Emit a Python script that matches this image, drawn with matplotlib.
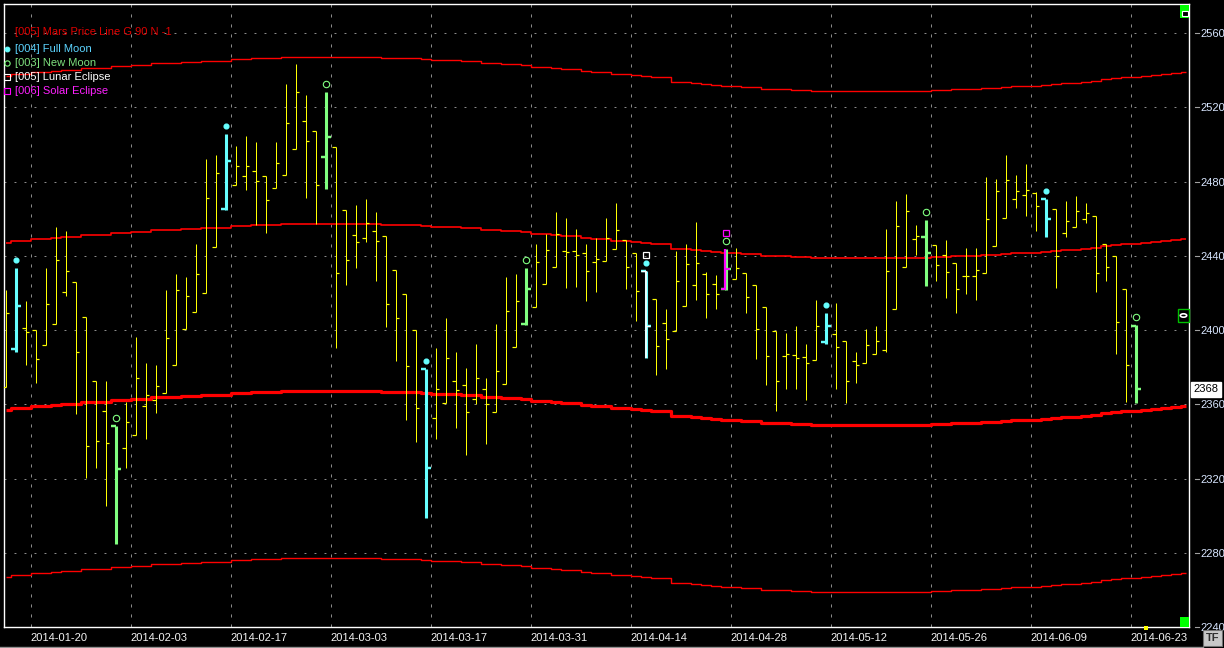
import matplotlib
matplotlib.use('Agg')
import matplotlib.pyplot as plt
import matplotlib.transforms as mtrans
from matplotlib.patches import Rectangle, Circle
import numpy as np

plt.rcParams['font.family'] = ['Liberation Sans', 'DejaVu Sans']
plt.rcParams['lines.scale_dashes'] = False

# ---------------- data ----------------
opens = [2369.3, 2389.8, 2401.1, 2400.0, 2391.9, 2403.3, 2420.5, 2425.9, 2407.0, 2372.5,
         2356.4, 2348.3, 2336.4, 2343.4, 2359.1, 2362.3, 2366.1, 2381.2, 2400.6, 2409.7,
         2420.0, 2444.7, 2465.2, 2478.1, 2483.0, 2485.7, 2483.0, 2476.5, 2483.5, 2497.5,
         2512.6, 2507.2, 2493.2, 2498.6, 2464.7, 2451.2, 2449.6, 2453.4, 2450.7, 2432.4,
         2419.4, 2400.0, 2379.0, 2352.6, 2360.7, 2372.5, 2370.4, 2362.8, 2368.2, 2355.8,
         2370.9, 2390.9, 2403.3, 2412.4, 2424.8, 2434.0, 2442.6, 2442.6, 2441.5, 2436.7,
         2437.2, 2443.7, 2448.5, 2441.5, 2431.8, 2416.7, 2403.8, 2399.5, 2413.0, 2424.3,
         2430.2, 2424.8, 2422.1, 2427.5, 2430.7, 2424.3, 2412.4, 2399.5, 2386.0, 2386.6,
         2385.5, 2383.9, 2393.6, 2397.9, 2394.1, 2383.3, 2382.2, 2387.1, 2389.2, 2411.3,
         2434.0, 2449.1, 2450.1, 2445.8, 2440.4, 2436.1, 2429.1, 2429.1, 2430.7, 2445.3,
         2460.4, 2470.6, 2472.8, 2473.8, 2470.6, 2465.2, 2452.3, 2455.5, 2459.8, 2461.4,
         2446.4, 2439.9, 2422.1, 2402.2]
highs = [2421.6, 2433.4, 2415.6, 2400.0, 2433.4, 2455.5, 2453.4, 2425.9, 2407.0, 2372.5,
         2372.5, 2348.3, 2361.2, 2396.3, 2382.2, 2381.2, 2421.6, 2430.2, 2428.6, 2446.4,
         2492.2, 2494.3, 2505.6, 2499.2, 2504.5, 2501.3, 2483.0, 2501.3, 2532.6, 2543.3,
         2526.6, 2507.2, 2528.3, 2498.6, 2464.7, 2467.4, 2470.6, 2463.6, 2450.7, 2432.4,
         2419.4, 2400.0, 2379.0, 2390.3, 2406.5, 2388.2, 2379.5, 2392.5, 2374.2, 2403.3,
         2428.6, 2430.2, 2433.4, 2446.4, 2451.7, 2463.6, 2460.4, 2454.4, 2446.4, 2449.6,
         2460.4, 2468.5, 2448.5, 2441.5, 2431.8, 2416.7, 2411.3, 2442.6, 2446.4, 2458.2,
         2431.3, 2429.7, 2443.7, 2444.2, 2430.7, 2424.3, 2412.4, 2399.5, 2398.4, 2402.2,
         2392.5, 2416.2, 2409.2, 2414.6, 2394.1, 2388.2, 2400.6, 2402.2, 2454.4, 2469.5,
         2473.3, 2456.6, 2459.3, 2445.8, 2448.5, 2436.1, 2444.2, 2444.2, 2482.5, 2481.4,
         2494.3, 2483.5, 2489.5, 2474.4, 2470.6, 2465.2, 2469.5, 2472.2, 2468.5, 2461.4,
         2446.4, 2439.9, 2422.1, 2402.7]
lows = [2369.3, 2388.2, 2381.2, 2371.5, 2391.9, 2403.3, 2418.3, 2354.8, 2320.3, 2325.7,
        2305.2, 2284.7, 2325.7, 2343.4, 2341.3, 2355.3, 2366.1, 2381.2, 2400.6, 2409.7,
        2420.0, 2444.7, 2464.7, 2478.1, 2475.5, 2456.6, 2452.3, 2476.5, 2483.5, 2497.5,
        2471.1, 2457.1, 2476.0, 2390.3, 2424.3, 2433.4, 2447.4, 2426.4, 2401.6, 2383.3,
        2351.5, 2339.7, 2298.7, 2341.3, 2360.7, 2347.2, 2332.7, 2360.2, 2338.6, 2355.8,
        2370.9, 2390.9, 2402.7, 2412.4, 2424.8, 2434.0, 2422.7, 2423.2, 2415.6, 2420.5,
        2437.2, 2443.7, 2422.1, 2404.9, 2384.9, 2375.8, 2379.0, 2399.5, 2413.0, 2416.2,
        2406.5, 2411.3, 2421.6, 2427.5, 2409.2, 2384.4, 2370.4, 2356.4, 2368.2, 2368.2,
        2362.3, 2383.9, 2392.5, 2368.2, 2360.7, 2371.5, 2382.2, 2387.1, 2388.2, 2411.3,
        2434.0, 2440.4, 2423.7, 2426.4, 2417.3, 2409.2, 2419.4, 2416.2, 2430.7, 2445.3,
        2460.4, 2465.8, 2461.4, 2453.4, 2450.1, 2422.7, 2450.1, 2455.5, 2457.7, 2420.5,
        2426.4, 2387.1, 2361.2, 2360.5]
closes = [2409.2, 2413.0, 2398.9, 2384.4, 2414.0, 2437.7, 2431.8, 2388.2, 2337.5, 2340.2,
          2339.1, 2325.1, 2350.5, 2374.2, 2365.0, 2369.9, 2395.7, 2421.6, 2418.3, 2430.2,
          2471.1, 2484.6, 2491.1, 2488.4, 2488.4, 2480.3, 2470.1, 2490.0, 2511.6, 2528.3,
          2501.9, 2478.1, 2504.0, 2430.7, 2437.7, 2447.4, 2457.7, 2448.0, 2414.0, 2406.5,
          2380.6, 2358.0, 2325.7, 2368.2, 2384.9, 2367.7, 2355.8, 2374.2, 2360.2, 2377.9,
          2410.3, 2415.6, 2422.1, 2436.7, 2443.1, 2451.7, 2442.1, 2440.4, 2431.8, 2438.3,
          2449.6, 2453.9, 2434.0, 2421.0, 2402.2, 2391.4, 2395.2, 2426.4, 2435.6, 2436.1,
          2419.4, 2419.4, 2432.9, 2433.4, 2417.8, 2400.6, 2386.0, 2372.5, 2387.1, 2384.9,
          2382.2, 2402.2, 2402.2, 2390.9, 2372.5, 2381.2, 2391.9, 2394.1, 2431.8, 2456.1,
          2464.1, 2450.7, 2441.5, 2435.0, 2431.3, 2422.1, 2429.1, 2432.4, 2459.8, 2474.9,
          2480.8, 2474.9, 2475.5, 2466.8, 2459.8, 2439.9, 2458.8, 2464.1, 2463.1, 2430.7,
          2434.0, 2404.3, 2381.2, 2368.0]

# Mars price line (one value per bar slot, incl. 5 future slots)
mars_line = [2446.9, 2448.1, 2448.1, 2448.9, 2448.9, 2449.6, 2450.1, 2450.1, 2451.2, 2451.2,
             2451.2, 2452.1, 2452.1, 2453.0, 2453.0, 2453.7, 2453.7, 2453.7, 2454.3, 2454.3,
             2455.1, 2455.1, 2455.1, 2456.1, 2456.1, 2456.6, 2456.6, 2456.6, 2457.1, 2457.1,
             2457.1, 2457.1, 2457.1, 2457.1, 2457.1, 2457.1, 2457.1, 2457.1, 2456.6, 2456.6,
             2456.6, 2456.6, 2456.1, 2455.5, 2455.5, 2455.5, 2454.8, 2454.8, 2453.9, 2453.7,
             2453.2, 2453.2, 2452.7, 2451.7, 2451.7, 2451.0, 2450.5, 2450.5, 2449.8, 2448.9,
             2448.9, 2448.0, 2448.0, 2447.3, 2446.7, 2446.2, 2446.2, 2443.7, 2443.5, 2443.0,
             2442.4, 2441.9, 2441.3, 2441.3, 2440.8, 2440.8, 2439.7, 2439.7, 2439.7, 2439.2,
             2439.2, 2438.7, 2438.7, 2438.7, 2438.7, 2438.7, 2438.7, 2438.7, 2438.7, 2438.7,
             2438.7, 2438.7, 2438.7, 2439.2, 2439.2, 2439.7, 2439.7, 2439.7, 2440.3, 2440.3,
             2440.8, 2441.3, 2441.3, 2441.3, 2441.9, 2442.4, 2443.0, 2443.0, 2443.5, 2444.0,
             2445.1, 2445.7, 2446.2, 2446.2, 2446.7, 2447.3, 2447.8, 2448.4, 2448.9]
harmonic_offsets = [90, 0, -90, -180]

full_moon = [1, 22, 42, 64, 82, 104]
new_moon = [11, 32, 52, 72, 92, 113]
lunar_eclipse = [64]
solar_eclipse = [72]

date_labels = ['2014-01-20', '2014-02-03', '2014-02-17', '2014-03-03', '2014-03-17',
               '2014-03-31', '2014-04-14', '2014-04-28', '2014-05-12', '2014-05-26',
               '2014-06-09', '2014-06-23']
price_ticks = [2240, 2280, 2320, 2360, 2400, 2440, 2480, 2520, 2560]
last_price = 2368

# ---------------- styling ----------------
W, H = 1224, 648
C_BAR = '#FFFF00'
C_FULL = '#66FFFF'
C_NEW = '#80FF80'
C_LUNAR = '#FFFFFF'
C_SOLAR = '#FF00FF'
C_RED = '#FF0000'
C_GRID = '#8A8A8A'
PX = 0.72  # one pixel in points

fig = plt.figure(figsize=(W / 100, H / 100), dpi=100, facecolor='black')
ax = fig.add_axes([4 / W, 21 / H, 1185 / W, 623 / H])
ax.set_facecolor('black')
ax.set_xlim(-0.15, 118.35)
ax.set_ylim(2240, 2240 + 623 / 1.856)

n = len(opens)
idx = np.arange(n)
o = np.array(opens); h = np.array(highs); l = np.array(lows); c = np.array(closes)

# grid
for yv in price_ticks[1:]:
    ax.axhline(yv, color=C_GRID, lw=PX, linestyle=(0, (1.4, 5.8)), zorder=1)
label_pos = [2.5 + 10 * k for k in range(len(date_labels))]
for xv in label_pos:
    ax.axvline(xv, color=C_GRID, lw=PX, linestyle=(0, (2.2, 5.0)), zorder=1)

# Mars price lines
xl = np.arange(len(mars_line))
ml = np.array(mars_line)
widths = [1.0, 1.2, 2.3, 1.0]
for off, lw in zip(harmonic_offsets, widths):
    ax.plot(xl, ml + off, drawstyle='steps-mid', color=C_RED, lw=lw, zorder=2,
            solid_capstyle='butt')

# ordinary OHLC bars
special = set(full_moon) | set(new_moon) | set(lunar_eclipse) | set(solar_eclipse)
norm = np.array([i for i in idx if i not in special])
tk = 0.38
ax.vlines(norm, l[norm], h[norm], color=C_BAR, lw=PX, zorder=3)
ax.hlines(o[norm], norm - tk, norm, color=C_BAR, lw=PX * 1.2, zorder=3)
ax.hlines(c[norm], norm, norm + tk, color=C_BAR, lw=PX * 1.2, zorder=3)


def event_bars(ids, color, lw=2.2, tlen=0.5, dx=0.0, z=4):
    ids = np.array(ids)
    ax.vlines(ids + dx, l[ids], h[ids], color=color, lw=lw, zorder=z)
    ax.hlines(o[ids], ids - tlen, ids, color=color, lw=lw * 0.8, zorder=z)
    ax.hlines(c[ids], ids, ids + tlen, color=color, lw=lw * 0.8, zorder=z)


event_bars(full_moon, C_FULL)
event_bars(new_moon, C_NEW)
event_bars(lunar_eclipse, C_LUNAR, lw=1.2, tlen=0.45, dx=0.08, z=5)
event_bars(solar_eclipse, C_SOLAR, lw=1.6, tlen=0.45, dx=-0.06, z=5)

# event markers above highs
up8 = mtrans.offset_copy(ax.transData, fig=fig, x=0, y=8, units='dots')
up16 = mtrans.offset_copy(ax.transData, fig=fig, x=0, y=16, units='dots')
fm = np.array(full_moon); nm = np.array(new_moon)
ax.plot(fm, h[fm], ls='none', marker='o', ms=3.4, mfc=C_FULL, mec=C_FULL, transform=up8, zorder=6)
ax.plot(nm, h[nm], ls='none', marker='o', ms=4.6, mfc='none', mec=C_NEW, mew=0.8, transform=up8, zorder=6)
le = np.array(lunar_eclipse); se = np.array(solar_eclipse)
ax.plot(le, h[le], ls='none', marker='s', ms=4.6, mfc='none', mec=C_LUNAR, mew=0.9, transform=up16, zorder=6)
ax.plot(se, h[se], ls='none', marker='s', ms=5.0, mfc='none', mec=C_SOLAR, mew=0.9, transform=up16, zorder=6)

# spines
for s in ['left', 'bottom', 'right', 'top']:
    ax.spines[s].set_color('white')
    ax.spines[s].set_linewidth(1.0)

# axes ticks
ax.set_xticks(label_pos)
ax.set_xticklabels(date_labels, ha='left')
ax.tick_params(axis='x', length=0, pad=4, labelsize=8, labelcolor='#F4F4F4')
ax.yaxis.tick_right()
ax.set_yticks(price_ticks)
ax.set_yticklabels([str(v) for v in price_ticks])
ax.tick_params(axis='y', length=0, pad=8, labelsize=8, labelcolor='#D8E6FF')
ytr = mtrans.blended_transform_factory(ax.transAxes, ax.transData)
for yv in price_ticks:
    ax.plot([1 + 6 / 1185, 1 + 10 / 1185], [yv, yv], color='#A0A0A0', lw=0.8,
            transform=ytr, clip_on=False)

# last price box
ax.text(1 + 4.5 / 1185, last_price, str(last_price), transform=ytr, ha='left', va='center',
        fontsize=8, color='black',
        bbox=dict(boxstyle='square,pad=0.25', facecolor='white', edgecolor='white'),
        clip_on=False, zorder=10)

# legend (top-left)
def fy(y):
    return 1 - y / H

fig.text(15 / W, fy(32), '[005] Mars Price Line G 90 N -1', color='#E00000', fontsize=8, va='center')
legend_items = [('[004] Full Moon', '#5CD4FF', 'o', C_FULL, C_FULL, 49),
                ('[003] New Moon', '#7EE07E', 'o', 'none', C_NEW, 63),
                ('[005] Lunar Eclipse', '#FFFFFF', 's', 'none', C_LUNAR, 77),
                ('[006] Solar Eclipse', '#FF20FF', 's', 'none', C_SOLAR, 91)]
for txt, tcol, mk, mfc, mec, yy in legend_items:
    fig.text(15 / W, fy(yy), txt, color=tcol, fontsize=8, va='center')
    fig.lines.append(plt.Line2D([7 / W], [fy(yy)], marker=mk, ms=3.4 if mfc != 'none' else 3.8,
                                mfc=mfc, mec=mec, mew=0.8, ls='none', transform=fig.transFigure))

# decorative UI glyphs
def prect(x, y, w, hh, fc, ec='none', lw=0.0, z=20):
    fig.patches.append(Rectangle((x / W, 1 - (y + hh) / H), w / W, hh / H, facecolor=fc,
                                 edgecolor=ec, lw=lw, transform=fig.transFigure, zorder=z))

prect(1180, 5, 9, 13, '#00FF00')
prect(1181.5, 11, 6, 5, 'black', ec='white', lw=0.8, z=21)
prect(1178, 309, 11, 13, 'black', ec='#00C000', lw=1.0)
fig.patches.append(Circle((1183.5 / W, 1 - 315.5 / H), 3.2 / W, facecolor='none', edgecolor='white',
                          lw=1.2, transform=fig.transFigure, zorder=22))
prect(1180, 617, 9, 10, '#00FF00')
prect(1144, 626, 4, 4, '#FFFF00')
prect(1203, 630, 19, 16, '#C8C8C8', ec='#707070', lw=0.8)
fig.text(1212.5 / W, fy(638), 'TF', color='#303030', fontsize=8, ha='center', va='center',
         fontweight='bold', zorder=23)
fig.lines.append(plt.Line2D([0, 1203 / W], [fy(646.5), fy(646.5)], color='#909090', lw=1.0,
                            transform=fig.transFigure))

fig.savefig('out.png', dpi=100, facecolor='black')
